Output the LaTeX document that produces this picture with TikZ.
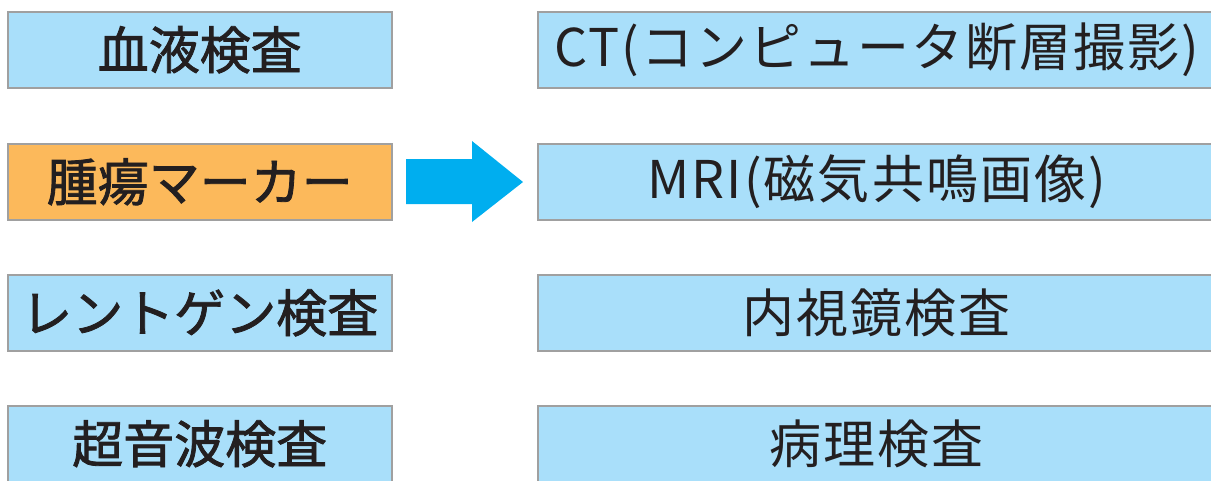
\documentclass[tikz,border=0pt]{standalone}
\usepackage{fontspec}
\setmainfont{Noto Sans CJK JP}
\newfontfamily\jpbold{Noto Sans CJK JP}[FakeBold=1.6]
\newfontfamily\jpright{Noto Sans CJK JP}[LetterSpace=4]
\definecolor{lightblue}{HTML}{A9DFFA}
\definecolor{lightorange}{HTML}{FCB95B}
\definecolor{arrowblue}{HTML}{00AEEF}
\definecolor{boxgray}{HTML}{A0A0A0}
\definecolor{textdark}{HTML}{231F20}
\begin{document}
\begin{tikzpicture}[x=1pt,y=-1pt,
  box/.style={draw=boxgray, line width=1.5pt, fill=lightblue, minimum height=76pt,
    inner sep=0pt, anchor=north west, text=textdark},
  leftbox/.style={box, minimum width=384pt, font=\jpbold\fontsize{51}{51}\selectfont},
  rightbox/.style={box, minimum width=678pt, font=\jpright\fontsize{52}{52}\selectfont},
  orangebox/.style={leftbox, fill=lightorange}]
\useasboundingbox (0,0) rectangle (1211,480);
\clip (0,0) rectangle (1211,480);
\node[leftbox] (l1) at (7,11) {血液検査};
\node[orangebox] (l2) at (7,143) {腫瘍マーカー};
\node[leftbox] (l3) at (7,274) {レントゲン検査};
\node[leftbox] (l4) at (7,405) {超音波検査};
\node[rightbox] (r1) at (537,11) {CT(コンピュータ断層撮影)};
\node[rightbox] (r2) at (537,143) {MRI(磁気共鳴画像)};
\node[rightbox] (r3) at (537,274) {内視鏡検査};
\node[rightbox] (r4) at (537,405) {病理検査};
\fill[arrowblue] (406,159) -- (472,159) -- (472,141) -- (523,182) -- (472,222) -- (472,204) -- (406,204) -- cycle;
\end{tikzpicture}
\end{document}
